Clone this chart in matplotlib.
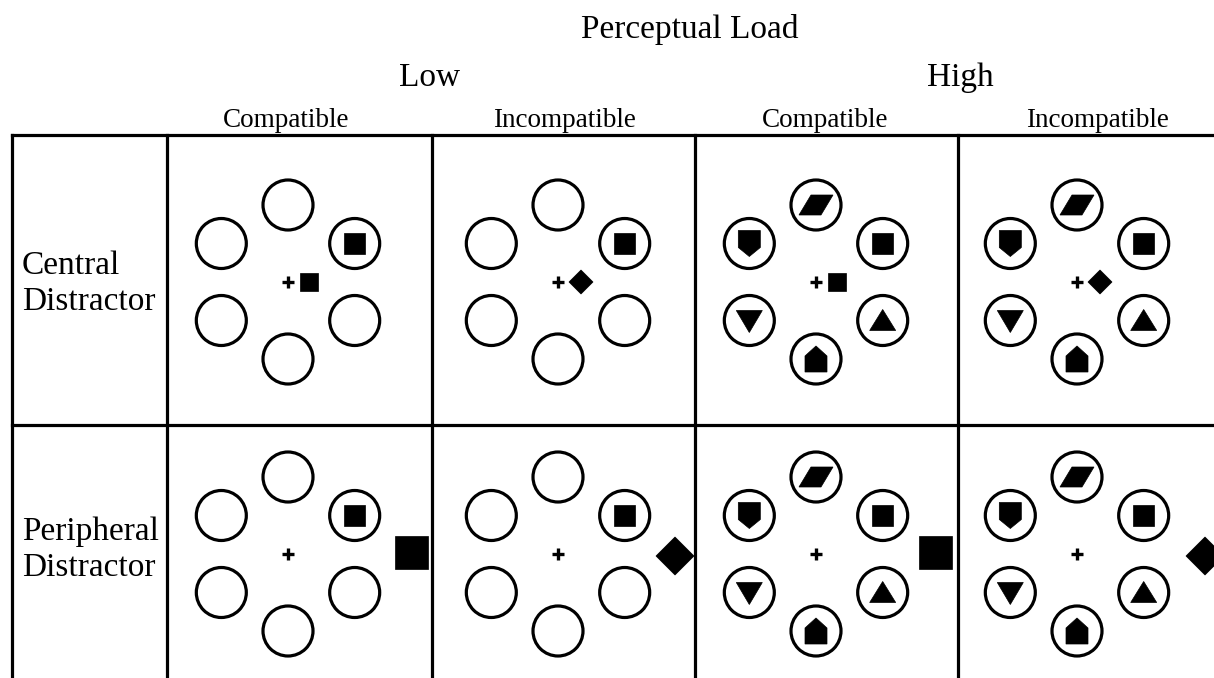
import numpy as np
import matplotlib
matplotlib.use("Agg")
import matplotlib.pyplot as plt
from matplotlib.patches import Circle, Polygon

# --- chart content ---
title = "Perceptual Load"
load_labels = ["Low", "High"]
compat_labels = ["Compatible", "Incompatible", "Compatible", "Incompatible"]
row_labels = ["Central\nDistractor", "Peripheral\nDistractor"]
col_load = ["low", "low", "high", "high"]
col_distractor = ["square", "diamond", "square", "diamond"]
row_position = ["central", "peripheral"]

# items around the ring, starting at the upper right and going anticlockwise
ring_angles = [30, 90, 150, 210, 270, 330]
low_items = ["square", None, None, None, None, None]
high_items = ["square", "parallelogram", "shield", "tri_down", "house", "tri_up"]

# --- layout (pixel coords, y down) ---
W, H = 1214, 678
col_edges = [12, 167, 432, 695, 958]
row_edges = [135, 425]
ring_x = [288, 558, 816, 1077]
ring_y = [282, 554]
label_x = [286, 564, 825, 1097]
load_x = [430, 960]
row_label_y = [284, 550]
periph_dx = [123, 117, 119, 128]
ring_r = 77
circ_r = 25
lw = 2.3

fig = plt.figure(figsize=(W / 100, H / 100), dpi=100)
ax = fig.add_axes([0, 0, 1, 1])
ax.set_xlim(0, W)
ax.set_ylim(H, 0)
ax.axis("off")

serif = "Liberation Serif"


def shape_verts(kind, s):
    # vertices around (0, 0); y axis points down
    if kind == "square":
        h = s / 2
        return [(-h, -h), (h, -h), (h, h), (-h, h)]
    if kind == "diamond":
        return [(0, -s), (s, 0), (0, s), (-s, 0)]
    if kind == "parallelogram":
        return [(-5, -10), (17, -10), (5, 10), (-17, 10)]
    if kind == "shield":
        return [(-11, -13), (11, -13), (11, 4), (0, 13), (-11, 4)]
    if kind == "house":
        return [(0, -13), (11, -3), (11, 13), (-11, 13), (-11, -3)]
    if kind == "tri_down":
        return [(-13, -10), (13, -10), (0, 12)]
    if kind == "tri_up":
        return [(0, -11), (13, 10), (-13, 10)]
    return []


def draw_shape(kind, x, y, s):
    v = np.array(shape_verts(kind, s), dtype=float) + [x, y]
    ax.add_patch(Polygon(v, closed=True, facecolor="black", edgecolor="black",
                         lw=0.5))


def draw_cross(x, y, h=6):
    ax.plot([x - h, x + h], [y, y], color="black", lw=2.4, solid_capstyle="butt")
    ax.plot([x, x], [y - h, y + h], color="black", lw=2.4, solid_capstyle="butt")


# table lines
ax.plot([col_edges[0], W], [row_edges[0], row_edges[0]], color="black", lw=lw)
ax.plot([col_edges[0], W], [row_edges[1], row_edges[1]], color="black", lw=lw)
for xe in col_edges:
    ax.plot([xe, xe], [row_edges[0], H], color="black", lw=lw)

# headers
ax.text(690, 38, title, family=serif, fontsize=24, ha="center", va="baseline")
for x, lab in zip(load_x, load_labels):
    ax.text(x, 86, lab, family=serif, fontsize=24, ha="center", va="baseline")
for x, lab in zip(label_x, compat_labels):
    ax.text(x, 127, lab, family=serif, fontsize=19.5, ha="center", va="baseline")
for y, lab in zip(row_label_y, row_labels):
    ax.text(22, y, lab, family=serif, fontsize=24, ha="left",
            va="center", linespacing=1.22)

# stimulus panels
for i, pos in enumerate(row_position):
    for j in range(len(compat_labels)):
        cx, cy = ring_x[j], ring_y[i]
        items = high_items if col_load[j] == "high" else low_items
        for ang, item in zip(ring_angles, items):
            px = cx + ring_r * np.cos(np.radians(ang))
            py = cy - ring_r * np.sin(np.radians(ang))
            ax.add_patch(Circle((px, py), circ_r, facecolor="none",
                                edgecolor="black", lw=lw))
            if item is not None:
                draw_shape(item, px, py, 21)
        draw_cross(cx, cy)
        kind = col_distractor[j]
        if pos == "central":
            if kind == "square":
                draw_shape("square", cx + 21, cy, 18)
            else:
                draw_shape("diamond", cx + 23, cy, 12)
        else:
            if kind == "square":
                draw_shape("square", cx + periph_dx[j], cy - 2, 33)
            else:
                draw_shape("diamond", cx + periph_dx[j], cy + 2, 19)

fig.savefig("out.png", dpi=100, facecolor="white")
